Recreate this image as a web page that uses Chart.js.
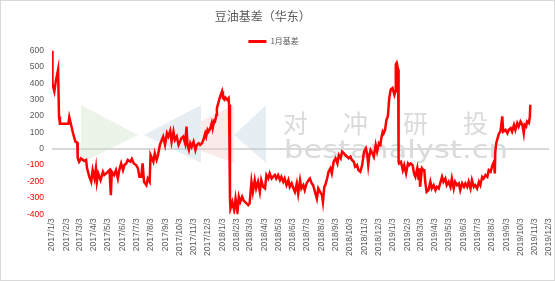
<!DOCTYPE html>
<html>
<head>
<meta charset="utf-8">
<script src="https://cdn.jsdelivr.net/npm/chart.js@4"></script>
<style>
  html, body { margin: 0; padding: 0; background: #fff; }
  #wrap { width: 555px; height: 281px; box-sizing: border-box; border: 1px solid #d9d9d9; position: relative; }
</style>
</head>
<body>
<div id="wrap"><canvas id="chart"></canvas></div>
<script>
const title = '豆油基差（华东）';
const seriesName = '1月基差';

const dates = [
  '2017/1/3','2017/1/4','2017/1/8','2017/1/11','2017/1/16','2017/1/18','2017/1/20','2017/2/7','2017/2/9','2017/2/17',
  '2017/2/22','2017/2/26','2017/2/27','2017/3/2','2017/3/6','2017/3/13','2017/3/17','2017/3/19','2017/3/24','2017/3/28',
  '2017/3/31','2017/4/4','2017/4/7','2017/4/9','2017/4/12','2017/4/17','2017/4/22','2017/4/25','2017/4/29','2017/5/6',
  '2017/5/9','2017/5/11','2017/5/16','2017/5/20','2017/5/24','2017/5/27','2017/5/31','2017/6/4','2017/6/7','2017/6/11',
  '2017/6/14','2017/6/20','2017/6/23','2017/6/27','2017/7/2','2017/7/6','2017/7/9','2017/7/13','2017/7/16','2017/7/19',
  '2017/7/24','2017/7/27','2017/7/31','2017/8/2','2017/8/8','2017/8/11','2017/8/15','2017/8/18','2017/8/22','2017/8/26',
  '2017/8/29','2017/9/2','2017/9/6','2017/9/9','2017/9/13','2017/9/16','2017/9/20','2017/9/23','2017/9/27','2017/10/1',
  '2017/10/4','2017/10/7','2017/10/11','2017/10/15','2017/10/18','2017/10/20','2017/10/23','2017/10/26','2017/10/29','2017/11/2',
  '2017/11/6','2017/11/9','2017/11/13','2017/11/16','2017/11/20','2017/11/23','2017/11/27','2017/11/29','2017/12/2','2017/12/4',
  '2017/12/8','2017/12/11','2017/12/13','2017/12/16','2017/12/18','2017/12/21','2017/12/22','2017/12/26','2017/12/29','2018/1/2',
  '2018/1/4','2018/1/7','2018/1/9','2018/1/13','2018/1/16','2018/1/17','2018/1/19','2018/1/20','2018/1/24','2018/1/28',
  '2018/1/31','2018/2/4','2018/2/7','2018/2/10','2018/2/14','2018/2/17','2018/2/20','2018/2/24','2018/2/27','2018/3/2',
  '2018/3/6','2018/3/9','2018/3/13','2018/3/16','2018/3/20','2018/3/24','2018/3/27','2018/3/31','2018/4/4','2018/4/7',
  '2018/4/11','2018/4/14','2018/4/18','2018/4/21','2018/4/25','2018/4/28','2018/5/2','2018/5/6','2018/5/9','2018/5/13',
  '2018/5/16','2018/5/20','2018/5/24','2018/5/27','2018/5/31','2018/6/4','2018/6/7','2018/6/11','2018/6/14','2018/6/18',
  '2018/6/21','2018/6/25','2018/6/28','2018/7/2','2018/7/6','2018/7/9','2018/7/13','2018/7/16','2018/7/20','2018/7/24',
  '2018/7/27','2018/7/31','2018/8/4','2018/8/6','2018/8/9','2018/8/11','2018/8/15','2018/8/18','2018/8/22','2018/8/25',
  '2018/8/29','2018/9/2','2018/9/6','2018/9/9','2018/9/13','2018/9/16','2018/9/20','2018/9/23','2018/9/27','2018/9/30',
  '2018/10/4','2018/10/7','2018/10/11','2018/10/14','2018/10/18','2018/10/21','2018/10/25','2018/10/29','2018/11/2','2018/11/6',
  '2018/11/9','2018/11/11','2018/11/13','2018/11/16','2018/11/20','2018/11/23','2018/11/27','2018/11/30','2018/12/4','2018/12/7',
  '2018/12/9','2018/12/12','2018/12/14','2018/12/17','2018/12/20','2018/12/23','2018/12/26','2018/12/29','2019/1/2','2019/1/6',
  '2019/1/8','2019/1/9','2019/1/11','2019/1/14','2019/1/15','2019/1/16','2019/1/20','2019/1/24','2019/1/27','2019/1/31',
  '2019/2/4','2019/2/7','2019/2/10','2019/2/14','2019/2/17','2019/2/20','2019/2/24','2019/2/27','2019/3/1','2019/3/2',
  '2019/3/6','2019/3/9','2019/3/11','2019/3/13','2019/3/16','2019/3/20','2019/3/24','2019/3/27','2019/3/31','2019/4/4',
  '2019/4/7','2019/4/11','2019/4/14','2019/4/18','2019/4/21','2019/4/25','2019/4/28','2019/5/2','2019/5/6','2019/5/9',
  '2019/5/13','2019/5/16','2019/5/20','2019/5/24','2019/5/27','2019/5/31','2019/6/4','2019/6/7','2019/6/11','2019/6/14',
  '2019/6/18','2019/6/21','2019/6/25','2019/6/28','2019/7/2','2019/7/6','2019/7/9','2019/7/13','2019/7/16','2019/7/20',
  '2019/7/24','2019/7/27','2019/7/31','2019/8/4','2019/8/7','2019/8/9','2019/8/10','2019/8/12','2019/8/15','2019/8/18',
  '2019/8/21','2019/8/25','2019/8/27','2019/9/1','2019/9/5','2019/9/8','2019/9/12','2019/9/15','2019/9/19','2019/9/22',
  '2019/9/26','2019/9/29','2019/10/3','2019/10/7','2019/10/10','2019/10/12','2019/10/15','2019/10/17','2019/10/21','2019/10/23',
  '2019/10/24'
];

const basis = [
  600, 395, 350, 411, 483, 196, 152, 152, 193, 94,
  43, 37, -57, -80, -59, -75, -69, -120, -172, -202,
  -131, -182, -120, -202, -151, -192, -141, -161, -151, -131,
  -284, -141, -161, -131, -182, -131, -90, -131, -100, -90,
  -69, -80, -63, -90, -100, -120, -172, -172, -90, -202,
  -223, -182, -202, -39, -80, -28, -69, -39, 23, 53,
  74, 23, 94, 74, 109, 43, 104, 53, 74, 23,
  43, 64, 74, 33, 135, 23, -8, 33, 12, 43,
  -8, 23, 33, 23, 33, 53, 94, 74, 115, 104,
  125, 156, 125, 170, 166, 207, 248, 289, 319, 350,
  309, 299, 313, 299, 309, 268, -305, -366, -325, -376,
  -305, -386, -294, -325, -294, -315, -325, -335, -345, -335,
  -202, -264, -192, -243, -202, -264, -192, -233, -243, -161,
  -182, -151, -182, -172, -161, -182, -161, -192, -172, -202,
  -182, -223, -192, -233, -212, -243, -264, -212, -274, -192,
  -243, -223, -253, -212, -192, -182, -212, -223, -264, -305,
  -243, -264, -284, -325, -233, -223, -182, -141, -120, -151,
  -80, -59, -90, -39, -59, -18, -28, -39, -49, -59,
  -49, -69, -80, -110, -100, -131, -141, -100, -18, 2,
  -39, -100, -49, -8, -28, -49, 23, -18, 33, 23,
  64, 104, 94, 115, 176, 197, 309, 360, 370, 329,
  350, 514, 524, 483, -80, -90, -80, -131, -100, -151,
  -90, -100, -90, -100, -151, -172, -120, -192, -120, -233,
  -120, -131, -131, -202, -264, -253, -202, -243, -223, -253,
  -233, -243, -212, -172, -202, -182, -223, -202, -233, -182,
  -243, -202, -223, -212, -253, -212, -233, -212, -233, -202,
  -243, -192, -233, -223, -243, -202, -223, -172, -182, -161,
  -172, -131, -141, -100, -80, -151, -18, 33, 64, 94,
  104, 197, 104, 115, 94, 115, 125, 104, 145, 115,
  156, 135, 166, 145, 94, 145, 135, 166, 156, 197,
  268
];

const tickLabels = [
  '2017/1/3','2017/2/3','2017/3/3','2017/4/3','2017/5/3','2017/6/3','2017/7/3','2017/8/3','2017/9/3','2017/10/3','2017/11/3','2017/12/3',
  '2018/1/3','2018/2/3','2018/3/3','2018/4/3','2018/5/3','2018/6/3','2018/7/3','2018/8/3','2018/9/3','2018/10/3','2018/11/3','2018/12/3',
  '2019/1/3','2019/2/3','2019/3/3','2019/4/3','2019/5/3','2019/6/3','2019/7/3','2019/8/3','2019/9/3','2019/10/3','2019/11/3','2019/12/3'
];

const yMin = -400, yMax = 600, yStep = 100;

function toDay(s) {
  const [y, m, d] = s.split('/').map(Number);
  return Date.UTC(y, m - 1, d) / 864e5;
}

const tickDays = tickLabels.map(toDay);
const labelByDay = {};
tickLabels.forEach((t, i) => { labelByDay[tickDays[i]] = t; });

const points = dates.map((d, i) => ({ x: toDay(d), y: basis[i] }));

const FONT = '"Noto Sans CJK SC", "Noto Sans", sans-serif';
const NUM_FONT = '"Liberation Sans", Arial, sans-serif';
const GREY = '#595959';
// trailing blanks nudge the centred title/legend left, like the original
const TITLE_PAD = '\u3000\u3000\u3000\u3000  ';
const LEGEND_PAD = '\u3000\u3000\u3000 ';

// faint logo watermark behind the line
const watermark = {
  id: 'watermark',
  beforeDatasetsDraw(chart) {
    const ctx = chart.ctx;
    ctx.save();
    ctx.globalAlpha = 0.35;
    ctx.fillStyle = '#c9dcc0';
    ctx.beginPath(); ctx.moveTo(80, 104); ctx.lineTo(137, 134); ctx.lineTo(80, 162); ctx.closePath(); ctx.fill();
    ctx.fillStyle = '#b8cde0';
    ctx.beginPath(); ctx.moveTo(143, 134); ctx.lineTo(200, 104); ctx.lineTo(200, 162); ctx.closePath(); ctx.fill();
    ctx.fillStyle = '#f2c4c4';
    ctx.beginPath(); ctx.moveTo(200, 120); ctx.lineTo(233, 104); ctx.lineTo(233, 162); ctx.lineTo(200, 150); ctx.closePath(); ctx.fill();
    ctx.fillStyle = '#b8cde0';
    ctx.beginPath(); ctx.moveTo(233, 134); ctx.lineTo(265, 104); ctx.lineTo(265, 162); ctx.closePath(); ctx.fill();
    ctx.globalAlpha = 1;
    ctx.fillStyle = '#dadada';
    ctx.font = '25px ' + FONT;
    ctx.textBaseline = 'middle';
    ['对', '冲', '研', '投'].forEach((c, i) => ctx.fillText(c, 282 + i * 60, 122));
    ctx.font = '25px "DejaVu Sans", sans-serif';
    const w = ctx.measureText('bestanalyst.cn').width;
    ctx.translate(283, 150);
    ctx.scale(224 / w, 1);
    ctx.fillText('bestanalyst.cn', 0, 0);
    ctx.restore();
  }
};

// trim the fixed gap Chart.js leaves under the legend
const legendGap = {
  id: 'legendGap',
  beforeInit(chart) {
    const fit = chart.legend.fit;
    chart.legend.fit = function () {
      fit.call(this);
      this.height -= 5;
    };
  }
};

new Chart(document.getElementById('chart'), {
  type: 'line',
  data: {
    datasets: [{
      label: seriesName,
      data: points,
      borderColor: '#ff0000',
      backgroundColor: '#ff0000',
      borderWidth: 2.5,
      pointRadius: 0,
      tension: 0,
      fill: false
    }]
  },
  options: {
    responsive: true,
    maintainAspectRatio: false,
    animation: false,
    layout: { padding: { left: 18, right: 0, top: 0, bottom: 20 } },
    plugins: {
      title: {
        display: true,
        text: title + TITLE_PAD,
        color: GREY,
        font: { family: FONT, size: 12, weight: 'normal' },
        padding: { top: 8, bottom: 12 }
      },
      legend: {
        position: 'top',
        labels: {
          color: GREY,
          font: { family: FONT, size: 8 },
          boxWidth: 18,
          boxHeight: 3,
          padding: 2,
          generateLabels(chart) {
            const items = Chart.defaults.plugins.legend.labels.generateLabels(chart);
            items.forEach(it => {
              it.text = it.text + LEGEND_PAD;
              it.lineWidth = 0;
            });
            return items;
          }
        }
      },
      tooltip: { enabled: false }
    },
    scales: {
      x: {
        type: 'linear',
        min: tickDays[0],
        max: tickDays[tickDays.length - 1],
        afterBuildTicks(axis) {
          axis.ticks = tickDays.map(v => ({ value: v }));
        },
        afterFit(axis) {
          axis.paddingRight = 5;
        },
        ticks: {
          autoSkip: false,
          minRotation: 90,
          maxRotation: 90,
          padding: 4,
          color: GREY,
          font: { family: NUM_FONT, size: 8.5 },
          callback: v => labelByDay[v]
        },
        grid: { display: false, drawTicks: false },
        border: { display: false }
      },
      y: {
        min: yMin,
        max: yMax,
        ticks: {
          stepSize: yStep,
          padding: 8,
          color: c => (c.tick && c.tick.value < 0 ? '#ff0000' : GREY),
          font: { family: NUM_FONT, size: 8.5 }
        },
        grid: {
          drawTicks: false,
          lineWidth: 2,
          color: c => (c.tick && c.tick.value === 0 ? '#d9d9d9' : 'rgba(0,0,0,0)')
        },
        border: { display: false }
      }
    }
  },
  plugins: [watermark, legendGap]
});
</script>
</body>
</html>
